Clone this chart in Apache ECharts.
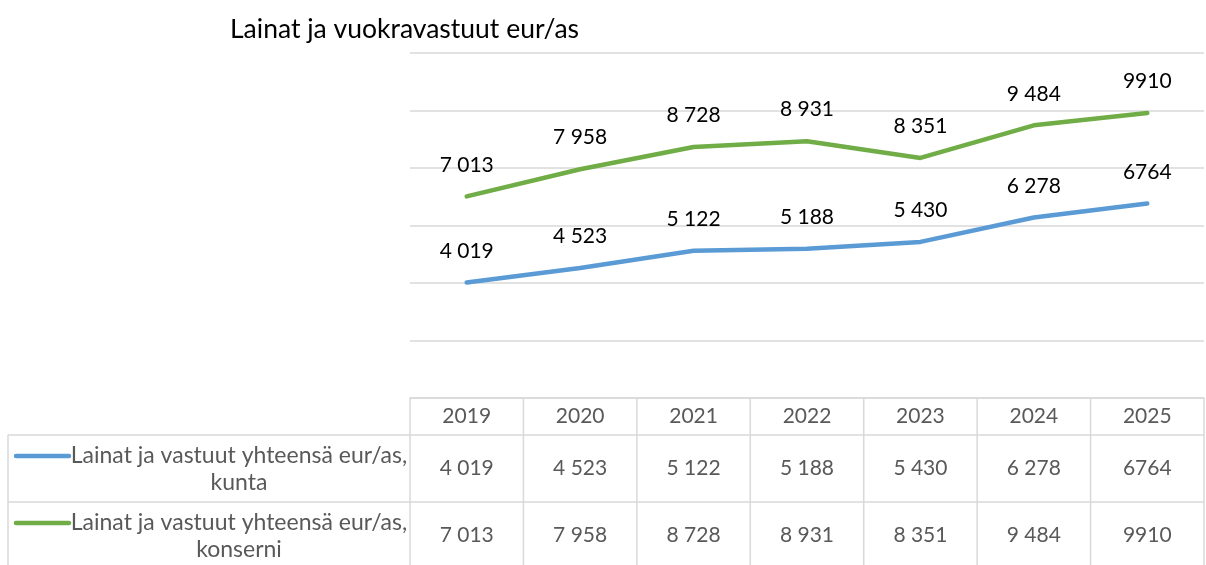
<!DOCTYPE html>
<html>
<head>
<meta charset="utf-8">
<script src="https://cdn.jsdelivr.net/npm/echarts@6/dist/echarts.min.js"></script>
<style>
  html, body { margin: 0; padding: 0; background: #fff; }
  #chart { width: 1206px; height: 565px; }
</style>
</head>
<body>
<div id="chart"></div>
<script>
const titleText = 'Lainat ja vuokravastuut eur/as';
const categories = ['2019', '2020', '2021', '2022', '2023', '2024', '2025'];
const kunta = [4019, 4523, 5122, 5188, 5430, 6278, 6764];
const konserni = [7013, 7958, 8728, 8931, 8351, 9484, 9910];
const kuntaText = ['4 019', '4 523', '5 122', '5 188', '5 430', '6 278', '6764'];
const konserniText = ['7 013', '7 958', '8 728', '8 931', '8 351', '9 484', '9910'];
const seriesNames = ['Lainat ja vastuut yhteensä eur/as, kunta', 'Lainat ja vastuut yhteensä eur/as, konserni'];
const seriesLegendText = ['Lainat ja vastuut yhteensä eur/as,\nkunta', 'Lainat ja vastuut yhteensä eur/as,\nkonserni'];
const seriesColors = ['#5b9bd5', '#70ad47'];
const yMin = 0, yMax = 12000, yInterval = 2000;

const FONT = 'Lato, "Open Sans", sans-serif';
const GRID_COLOR = '#d9d9d9';
const TEXT_GRAY = '#595959';
const HEADER_H = 37, ROW_H = 67;

const chart = echarts.init(document.getElementById('chart'), null, { renderer: 'canvas' });

const labelTexts = [kuntaText, konserniText];
const valueSets = [kunta, konserni];

chart.setOption({
  animation: false,
  backgroundColor: '#ffffff',
  title: {
    text: titleText,
    left: 225,
    top: 11,
    textStyle: { fontFamily: FONT, fontSize: 26.5, fontWeight: 'normal', color: '#000000' }
  },
  grid: { left: 410, right: 2, top: 53, bottom: 167, containLabel: false },
  xAxis: {
    type: 'category',
    data: categories,
    boundaryGap: true,
    axisLine: { show: true, lineStyle: { color: GRID_COLOR, width: 1.5 } },
    axisTick: { show: false },
    splitLine: { show: false },
    axisLabel: {
      interval: 0,
      margin: 0,
      color: TEXT_GRAY,
      fontFamily: FONT,
      fontSize: 21,
      formatter: function (v, i) {
        return '{h|' + v + '}\n{r|' + kuntaText[i] + '}\n{r|' + konserniText[i] + '}';
      },
      rich: {
        h: { lineHeight: HEADER_H, fontSize: 21, fontFamily: FONT, color: TEXT_GRAY },
        r: { lineHeight: ROW_H, fontSize: 21, fontFamily: FONT, color: TEXT_GRAY }
      }
    }
  },
  yAxis: {
    type: 'value',
    min: yMin,
    max: yMax,
    interval: yInterval,
    axisLine: { show: false },
    axisTick: { show: false },
    axisLabel: { show: false },
    splitLine: { show: true, lineStyle: { color: GRID_COLOR, width: 1.5 } }
  },
  series: valueSets.map(function (vals, s) {
    return {
      name: seriesNames[s],
      type: 'line',
      data: vals,
      showSymbol: true,
      symbol: 'circle',
      symbolSize: 0.1,
      lineStyle: { color: seriesColors[s], width: 4.5, cap: 'round', join: 'round' },
      itemStyle: { color: seriesColors[s], opacity: 0 },
      label: {
        show: true,
        position: 'top',
        distance: 21,
        color: '#000000',
        opacity: 1,
        fontFamily: FONT,
        fontSize: 21,
        formatter: function (p) { return labelTexts[s][p.dataIndex]; }
      },
      z: 3
    };
  })
});

// Data table borders and legend keys, positioned from the axes
const xc = categories.map(function (c, i) { return chart.convertToPixel({ xAxisIndex: 0 }, i); });
const bw = xc[1] - xc[0];
const bounds = [];
for (let i = 0; i <= categories.length; i++) bounds.push(xc[0] - bw / 2 + i * bw);
const tableTop = chart.convertToPixel({ yAxisIndex: 0 }, yMin);
const row1Top = tableTop + HEADER_H;
const row2Top = row1Top + ROW_H;
const tableBottom = 600;
const tableLeft = 8;

const g = [];
function line(x1, y1, x2, y2, color, w, cap) {
  g.push({ type: 'line', silent: true, z: 10,
    shape: { x1: x1, y1: y1, x2: x2, y2: y2 },
    style: { stroke: color, lineWidth: w, lineCap: cap || 'butt' } });
}
// horizontal lines
line(tableLeft, row1Top, bounds[bounds.length - 1], row1Top, GRID_COLOR, 1.5);
line(tableLeft, row2Top, bounds[bounds.length - 1], row2Top, GRID_COLOR, 1.5);
// vertical lines
line(tableLeft, row1Top, tableLeft, tableBottom, GRID_COLOR, 1.5);
bounds.forEach(function (b) { line(b, tableTop, b, tableBottom, GRID_COLOR, 1.5); });

// legend keys in the table
[row1Top, row2Top].forEach(function (top, s) {
  const cy = top + 21;
  line(16, cy, 69, cy, seriesColors[s], 4.5, 'round');
  g.push({ type: 'text', silent: true, z: 10,
    x: (73 + 405) / 2, y: cy - 14,
    style: { text: seriesLegendText[s], fill: TEXT_GRAY, fontFamily: FONT, fontSize: 23,
      align: 'center', textAlign: 'center', verticalAlign: 'top', textVerticalAlign: 'top', lineHeight: 27 } });
});

chart.setOption({ graphic: g });
</script>
</body>
</html>
